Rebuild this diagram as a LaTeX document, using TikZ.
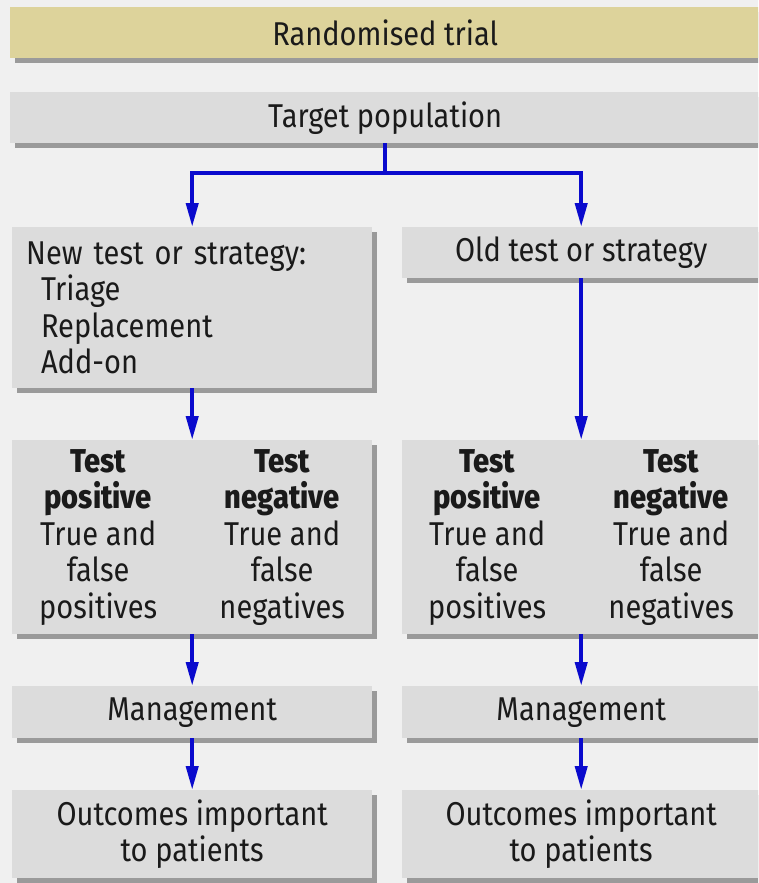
\documentclass[tikz,border=0pt]{standalone}
\usepackage{fontspec}
\setmainfont{Fira Sans}[FakeStretch=0.88,BoldFont={Fira Sans ExtraBold}]
\usetikzlibrary{arrows.meta,shadows}
\definecolor{bg}{HTML}{F0F0F0}
\definecolor{boxgray}{HTML}{DCDCDC}
\definecolor{shade}{HTML}{9A9A9A}
\definecolor{tan}{HTML}{DDD39B}
\definecolor{arrowblue}{HTML}{0A0ACD}
\definecolor{ink}{HTML}{1A1A1A}
\tikzset{x=1pt,y=-1pt,
  box/.style={fill=boxgray,text=ink,inner sep=0pt,anchor=north west,
    drop shadow={shadow xshift=5pt,shadow yshift=-5pt,fill=shade,opacity=1}},
  col/.style={align=center,text=ink,inner sep=0pt},
  arr/.style={draw=arrowblue,line width=4pt,-{Triangle[length=24pt,width=12pt]}}}

\begin{document}
\begin{tikzpicture}[font=\fontsize{33}{36.5}\selectfont]
        \clip (0,0) rectangle (758,883);
        \fill[bg] (0,0) rectangle (758,883);
        \node[box, fill=tan, minimum width=750pt, minimum height=51pt] (title) at (10,7) {Randomised trial};
        \node[box, minimum width=750pt, minimum height=51pt] (target) at (10,92) {Target population};
        \node[box, minimum width=360pt, minimum height=161pt, text width=332pt, inner xsep=14pt, align=left] (new) at (12,227)
            {New test or strategy:\\\hspace{.45em}Triage\\\hspace{.45em}Replacement\\\hspace{.45em}Add-on};
        \node[box, minimum width=358pt, minimum height=51pt] (old) at (402,227) {Old test or strategy};
        \node[box, minimum width=360pt, minimum height=194pt] (testL) at (12,440) {};
        \node[box, minimum width=358pt, minimum height=194pt] (testR) at (402,440) {};
        \foreach \t in {testL,testR} {
            \node[col] (\t-pos) at ([xshift=-94pt]\t.center) {\textbf{Test}\\\textbf{positive}\\True and\\false\\positives};
            \node[col] (\t-neg) at ([xshift=90pt]\t.center) {\textbf{Test}\\\textbf{negative}\\True and\\false\\negatives};
        }
        \node[box, minimum width=360pt, minimum height=52pt] (mgmtL) at (12,686) {Management};
        \node[box, minimum width=358pt, minimum height=52pt] (mgmtR) at (402,686) {Management};
        \node[box, minimum width=360pt, minimum height=88pt, align=center] (outL) at (12,790) {Outcomes important\\to patients};
        \node[box, minimum width=358pt, minimum height=88pt, align=center] (outR) at (402,790) {Outcomes important\\to patients};
        \draw[arr] (target.south) -- ++(0,30) -| (new.north);
        \draw[arr] (target.south) -- ++(0,30) -| (old.north);
        \draw[arr] (new.south) -- (testL.north);
        \draw[arr] (old.south) -- (testR.north);
        \draw[arr] (testL.south) -- (mgmtL.north);
        \draw[arr] (testR.south) -- (mgmtR.north);
        \draw[arr] (mgmtL.south) -- (outL.north);
        \draw[arr] (mgmtR.south) -- (outR.north);
    \end{tikzpicture}
\end{document}
